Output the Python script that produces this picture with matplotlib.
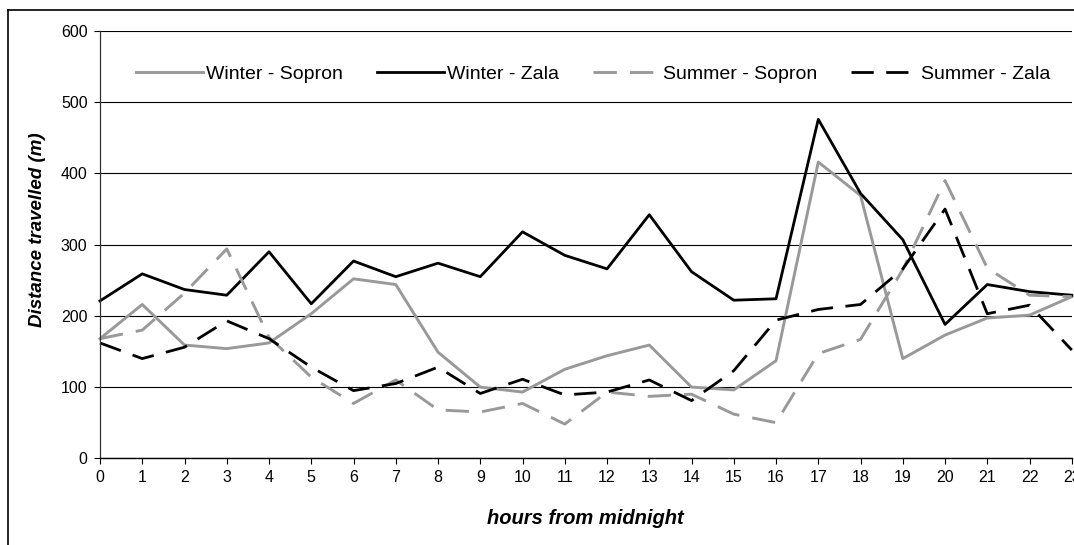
import numpy as np
import matplotlib
matplotlib.use("Agg")
import matplotlib.pyplot as plt
from matplotlib.lines import Line2D

plt.rcParams['font.family'] = ['Liberation Sans', 'DejaVu Sans']

# values (metres per hour)
hours = list(range(24))
winter_sopron = [168, 216, 159, 154, 162, 203, 252, 244, 149, 100, 93, 125,
                 144, 159, 100, 96, 137, 416, 369, 140, 173, 197, 201, 227]
winter_zala = [221, 259, 237, 229, 290, 217, 277, 255, 274, 255, 318, 285,
               266, 342, 262, 222, 224, 476, 372, 307, 188, 244, 234, 229]
summer_sopron = [168, 180, 232, 294, 170, 114, 77, 110, 68, 65, 77, 48,
                 93, 87, 90, 62, 50, 147, 167, 265, 390, 267, 229, 227]
summer_zala = [162, 140, 156, 193, 168, 128, 95, 105, 128, 91, 111, 89,
               93, 110, 81, 123, 194, 209, 216, 266, 350, 203, 215, 152]

W, H = 1074, 545
fig = plt.figure(figsize=(W / 100, H / 100), dpi=100)
fig.patch.set_facecolor('white')

# plot area in pixels
left, right, top, bottom = 100, 1071.8, 31, 458.3
ax = fig.add_axes([left / W, 1 - bottom / H, (right - left) / W, (bottom - top) / H])

GRAY = '#999999'
dash = (0, (8, 4.5))

ax.plot(hours, winter_sopron, color=GRAY, lw=2.1, label='Winter - Sopron', clip_on=False)
ax.plot(hours, winter_zala, color='black', lw=2.0, label='Winter - Zala', clip_on=False)
ax.plot(hours, summer_sopron, color=GRAY, lw=2.1, ls=dash, label='Summer - Sopron', clip_on=False)
ax.plot(hours, summer_zala, color='black', lw=2.0, ls=dash, label='Summer - Zala', clip_on=False)

ax.set_xlim(0, 23)
ax.set_ylim(0, 600)
ax.set_xticks(hours)
ax.set_yticks(range(0, 601, 100))
ax.yaxis.grid(True, color='black', lw=0.8)
ax.set_axisbelow(True)

for s in ['top', 'right']:
    ax.spines[s].set_visible(False)
ax.spines['left'].set_color('#333333')
ax.spines['bottom'].set_color('black')
ax.spines['left'].set_linewidth(0.9)
ax.spines['bottom'].set_linewidth(1.0)

ax.tick_params(axis='y', length=4, width=0.8, pad=5, labelsize=11.5, direction='out')
ax.tick_params(axis='x', length=4, width=0.8, pad=4.5, labelsize=11.5, direction='out')
for lab in ax.get_xticklabels():
    lab.set_clip_on(False)

fig.text(38 / W, 1 - 230 / H, 'Distance travelled (m)', rotation=90,
         fontsize=13.5, fontweight='bold', fontstyle='italic',
         ha='center', va='center')
fig.text(585 / W, 1 - 519 / H, 'hours from midnight',
         fontsize=14.5, fontweight='bold', fontstyle='italic',
         ha='center', va='center')

ax.legend(loc='center left', bbox_to_anchor=(136 / W, 1 - 74 / H),
          bbox_transform=fig.transFigure, ncol=4, frameon=False,
          borderpad=0, borderaxespad=0, handlelength=3.45,
          handletextpad=0.15, columnspacing=1.75, fontsize=14)

# outer chart frame (cropped on the right and bottom)
fig.add_artist(Line2D([7.6 / W, 7.6 / W], [0, 1 - 10 / H], color='black', lw=1.2,
                      transform=fig.transFigure))
fig.add_artist(Line2D([7.6 / W, 1.0], [1 - 10 / H, 1 - 10 / H], color='black', lw=1.2,
                      transform=fig.transFigure))

fig.savefig('out.png', dpi=100)
